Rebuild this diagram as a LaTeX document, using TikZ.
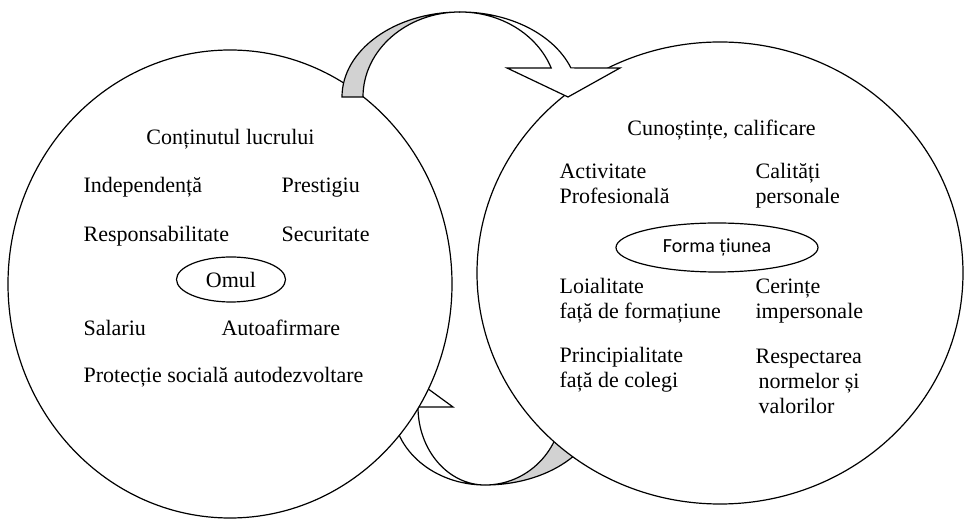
\documentclass[tikz,border=0pt]{standalone}
\usepackage{fontspec}
\setmainfont{Liberation Serif}
\newfontfamily\formafont{Carlito}
\usetikzlibrary{shapes.geometric}
\tikzset{
	txt/.style={inner sep=0pt,anchor=base west,align=left,font=\fontsize{11}{12.5}\selectfont},
	oval/.style={draw,ellipse,inner sep=0pt}
}
\begin{document}
\begin{tikzpicture}[x=.5pt,y=.5pt,line width=.6pt]
	\useasboundingbox(0,0)rectangle(964,519);
	\draw[fill=gray!35](485,34)arc[start angle=270,end angle=360,x radius=114,y radius=78]--(562,112)arc[start angle=0,end angle=-90,x radius=77,y radius=78]--cycle;
	\draw[fill=white](418,112)arc[start angle=180,end angle=270,x radius=67,y radius=78]arc[start angle=270,end angle=180,x radius=92,y radius=78]--(357,112)--(405,147)--(453,112)--cycle;
	\draw[fill=white](230,235)ellipse(222 and 234);
	\draw[fill=white](720,246)ellipse(243 and 231);
	\draw[fill=gray!35](342,422)arc[start angle=180,end angle=90,x radius=118,y radius=85]arc[start angle=90,end angle=180,x radius=97,y radius=85]--cycle;
	\draw[fill=white](460,507)arc[start angle=90,end angle=20,x radius=97,y radius=85]--(507,451)--(568,422)--(620,451)--(570.9,451.1)arc[start angle=20,end angle=90,x radius=118,y radius=85]--cycle;
	\node[txt,anchor=base](cont)at(230.5,374){Conținutul lucrului};
	\foreach \n/\x/\y/\t in {ind/83/326/Independență,pres/281/326/Prestigiu,resp/83/277/Responsabilitate,sec/281/277/Securitate,sal/83/183/Salariu,autoaf/221/183/Autoafirmare,prot/83/136/Protecție socială autodezvoltare}{
		\node[txt](\n)at(\x,\y){\t};
	}
	\node[oval,minimum width=54.5pt,minimum height=22.5pt,font=\fontsize{11}{12.5}\selectfont](omul)at(231,239.5){Omul};
	\node[txt,anchor=base](cun)at(721.5,383){Cunoștințe, calificare};
	\node[txt](act)at(559,315){Activitate\\Profesională};
	\node[txt](cal)at(755,315){Calități\\personale};
	\node[oval,minimum width=101pt,minimum height=24.5pt,font=\formafont\fontsize{10}{12}\selectfont](forma)at(717,271.5){Forma țiunea};
	\node[txt](loi)at(559,200){Loialitate\\față de formațiune};
	\node[txt](cer)at(755,200){Cerințe\\impersonale};
	\node[txt](pri)at(559,131){Principialitate\\față de colegi};
	\node[txt](norme)at(755,105){Respectarea\\\hspace{1.5pt}normelor și\\\hspace{1.5pt}valorilor};
\end{tikzpicture}
\end{document}
